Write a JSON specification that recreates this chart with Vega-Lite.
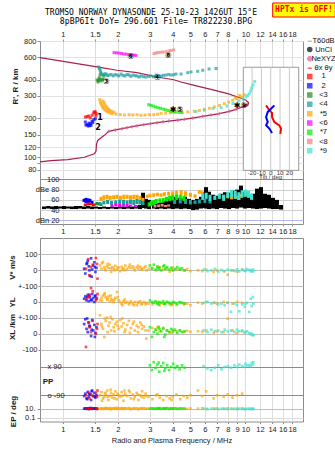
{
  "$schema": "https://vega.github.io/schema/vega-lite/v6.json",
  "background": "white",
  "padding": {"left": 7, "top": 1, "right": 0, "bottom": 0},
  "bounds": "flush",
  "spacing": 14,
  "config": {
    "view": {"stroke": "#8c8c8c", "strokeWidth": 1},
    "axis": {"domain": false, "labelFont": "Liberation Sans", "labelFontSize": 7.5, "labelColor": "#1a1a1a", "titleFont": "Liberation Sans", "titleFontSize": 8, "titleColor": "#1a1a1a", "tickColor": "#8c8c8c", "tickSize": 3, "labelPadding": 1, "gridColor": "#dddddd"},
    "text": {"font": "Liberation Sans"}
  },
  "vconcat": [
    {
      "width": 263,
      "height": 183,
      "layer": [
        {
          "data": {"values": [{"box": "tilt"}]},
          "mark": {"type": "rect", "fill": "white", "stroke": "#9a9a9a", "strokeWidth": 1},
          "encoding": {
            "x": {"datum": -29.4, "type": "quantitative", "scale": {"domain": [-247.4, 34.6], "nice": false, "zero": false}, "axis": null},
            "x2": {"datum": 30},
            "y": {"datum": 500, "type": "quantitative", "scale": {"type": "log", "domain": [30.3, 800], "nice": false, "zero": false}, "axis": null},
            "y2": {"datum": 79.1}
          }
        },
        {
          "data": {"values": [{"tick": -20, "lab": "-20"}, {"tick": -10, "lab": "-10"}, {"tick": 0, "lab": "0"}, {"tick": 10, "lab": "10"}, {"tick": 20, "lab": "20"}]},
          "mark": {"type": "rule", "color": "#c8c8c8", "strokeWidth": 1},
          "encoding": {
            "x": {"field": "tick", "type": "quantitative", "scale": {"domain": [-247.4, 34.6], "nice": false, "zero": false}, "axis": null},
            "y": {"datum": 500, "type": "quantitative", "scale": {"type": "log", "domain": [30.3, 800], "nice": false, "zero": false}, "axis": null},
            "y2": {"datum": 79.1}
          }
        },
        {
          "data": {"values": [{"tick": -20, "lab": "-20"}, {"tick": -10, "lab": "-10"}, {"tick": 0, "lab": "0"}, {"tick": 10, "lab": "10"}, {"tick": 20, "lab": "20"}]},
          "mark": {"type": "text", "fontSize": 6, "color": "#333333"},
          "encoding": {
            "x": {"field": "tick", "type": "quantitative", "scale": {"domain": [-247.4, 34.6], "nice": false, "zero": false}, "axis": null},
            "y": {"datum": 75.8, "type": "quantitative", "scale": {"type": "log", "domain": [30.3, 800], "nice": false, "zero": false}, "axis": null},
            "text": {"field": "lab"}
          }
        },
        {
          "data": {"values": [{"lab": "Tilt / deg"}]},
          "mark": {"type": "text", "fontSize": 6, "color": "#333333"},
          "encoding": {
            "x": {"datum": 0, "type": "quantitative", "scale": {"domain": [-247.4, 34.6], "nice": false, "zero": false}, "axis": null},
            "y": {"datum": 69.8, "type": "quantitative", "scale": {"type": "log", "domain": [30.3, 800], "nice": false, "zero": false}, "axis": null},
            "text": {"field": "lab"}
          }
        },
        {
          "data": {"values": [{"tilt": -5.0, "h": 253}, {"tilt": -1.5, "h": 232}, {"tilt": 1.4, "h": 221}, {"tilt": 1.4, "h": 205}, {"tilt": 3.9, "h": 188}, {"tilt": 9.2, "h": 177}, {"tilt": 11.0, "h": 167}, {"tilt": 10.3, "h": 152}]},
          "mark": {"type": "line", "color": "#ff0000", "strokeWidth": 2},
          "encoding": {
            "x": {"field": "tilt", "type": "quantitative", "scale": {"domain": [-247.4, 34.6], "nice": false, "zero": false}, "axis": null},
            "y": {"field": "h", "type": "quantitative", "scale": {"type": "log", "domain": [30.3, 800], "nice": false, "zero": false}, "axis": null},
            "order": {"field": "h", "type": "quantitative"}
          }
        },
        {
          "data": {"values": [{"tilt": 3.9, "h": 253}, {"tilt": 0.3, "h": 238}, {"tilt": -3.2, "h": 225}, {"tilt": -5.0, "h": 205}, {"tilt": -3.2, "h": 188}, {"tilt": -5.0, "h": 177}, {"tilt": -1.5, "h": 167}, {"tilt": 1.4, "h": 154}]},
          "mark": {"type": "line", "color": "#0000ff", "strokeWidth": 2},
          "encoding": {
            "x": {"field": "tilt", "type": "quantitative", "scale": {"domain": [-247.4, 34.6], "nice": false, "zero": false}, "axis": null},
            "y": {"field": "h", "type": "quantitative", "scale": {"type": "log", "domain": [30.3, 800], "nice": false, "zero": false}, "axis": null},
            "order": {"field": "h", "type": "quantitative"}
          }
        },
        {
          "data": {"values": [{"i": 0, "f": 0.751, "h": 595}, {"i": 1, "f": 0.931, "h": 566}, {"i": 2, "f": 1.198, "h": 533}, {"i": 3, "f": 1.541, "h": 503}, {"i": 4, "f": 1.982, "h": 474}, {"i": 5, "f": 2.551, "h": 454}, {"i": 6, "f": 3.282, "h": 420}, {"i": 7, "f": 4.05, "h": 400}, {"i": 8, "f": 4.44, "h": 384}, {"i": 9, "f": 5.25, "h": 362}, {"i": 10, "f": 6.48, "h": 337}, {"i": 11, "f": 8.0, "h": 312}, {"i": 12, "f": 9.07, "h": 294}, {"i": 13, "f": 10.08, "h": 277}, {"i": 14, "f": 10.4, "h": 265}, {"i": 15, "f": 10.3, "h": 252}, {"i": 16, "f": 9.9, "h": 247}]},
          "mark": {"type": "line", "color": "#a8204e", "strokeWidth": 1.2},
          "encoding": {
            "x": {"field": "f", "type": "quantitative", "scale": {"type": "log", "domain": [0.751, 20.66], "nice": false}, "axis": {"orient": "top", "values": [1, 1.5, 2, 3, 4, 5, 6, 7, 8, 9, 10, 12, 14, 16, 18], "format": "~g", "labelExpr": "datum.value == 9 ? '' : datum.label", "grid": true, "gridColor": "#dcdcdc", "tickSize": 2, "labelPadding": 1, "title": null}},
            "y": {"field": "h", "type": "quantitative", "scale": {"type": "log", "domain": [30.3, 800], "nice": false, "zero": false}, "axis": {"orient": "left", "values": [80, 90, 100, 120, 150, 200, 300, 400, 600, 800], "format": "~g", "grid": true, "gridColor": "#e2e2e2", "tickSize": 3, "title": "R', R / km", "titleX": -25, "titleY": 45, "titleAngle": 270, "titleAlign": "center", "titleBaseline": "middle", "titleFontWeight": "bold"}},
            "order": {"field": "i", "type": "quantitative"}
          }
        },
        {
          "data": {"values": [{"f": 0.751, "h": 92}, {"f": 0.863, "h": 94.3}, {"f": 1.065, "h": 95.7}, {"f": 1.313, "h": 100}, {"f": 1.489, "h": 106.5}, {"f": 1.522, "h": 111.8}, {"f": 1.531, "h": 126.7}, {"f": 1.554, "h": 135}, {"f": 1.689, "h": 148}, {"f": 1.786, "h": 159}, {"f": 1.941, "h": 163}, {"f": 2.112, "h": 166.6}, {"f": 2.395, "h": 172.7}, {"f": 2.776, "h": 179}, {"f": 3.282, "h": 185.5}, {"f": 3.804, "h": 191}, {"f": 4.63, "h": 197}, {"f": 5.84, "h": 208}, {"f": 7.195, "h": 218}, {"f": 8.166, "h": 227.5}, {"f": 8.88, "h": 235.7}, {"f": 9.86, "h": 250}, {"f": 10.27, "h": 260.6}]},
          "mark": {"type": "line", "color": "#a8204e", "strokeWidth": 1.2},
          "encoding": {
            "x": {"field": "f", "type": "quantitative", "scale": {"type": "log", "domain": [0.751, 20.66], "nice": false}, "axis": null},
            "y": {"field": "h", "type": "quantitative", "scale": {"type": "log", "domain": [30.3, 800], "nice": false, "zero": false}, "axis": null}
          }
        },
        {
          "data": {"values": [{"f": 1.786, "h": 159, "t": "NeXYZ"}, {"f": 1.941, "h": 163, "t": "NeXYZ"}, {"f": 2.112, "h": 166.6, "t": "NeXYZ"}, {"f": 2.249, "h": 169.6, "t": "NeXYZ"}, {"f": 2.395, "h": 172.7, "t": "NeXYZ"}, {"f": 2.551, "h": 175.8, "t": "NeXYZ"}, {"f": 2.776, "h": 179, "t": "NeXYZ"}, {"f": 3.016, "h": 182.2, "t": "NeXYZ"}, {"f": 3.282, "h": 185.5, "t": "NeXYZ"}, {"f": 3.54, "h": 188.9, "t": "NeXYZ"}, {"f": 3.804, "h": 191, "t": "NeXYZ"}, {"f": 4.26, "h": 194, "t": "NeXYZ"}, {"f": 4.63, "h": 197, "t": "NeXYZ"}, {"f": 5.146, "h": 202, "t": "NeXYZ"}, {"f": 5.84, "h": 208, "t": "NeXYZ"}, {"f": 6.48, "h": 213, "t": "NeXYZ"}, {"f": 7.195, "h": 218, "t": "NeXYZ"}, {"f": 8.166, "h": 227.5, "t": "NeXYZ"}, {"f": 8.88, "h": 235.7, "t": "NeXYZ"}, {"f": 9.86, "h": 250, "t": "NeXYZ"}]},
          "mark": {"type": "point", "shape": "cross", "filled": true, "size": 12},
          "encoding": {
            "x": {"field": "f", "type": "quantitative", "scale": {"type": "log", "domain": [0.751, 20.66], "nice": false}, "axis": null},
            "y": {"field": "h", "type": "quantitative", "scale": {"type": "log", "domain": [30.3, 800], "nice": false, "zero": false}, "axis": null},
            "color": {"field": "t", "type": "nominal"}
          }
        },
        {
          "data": {"values": [
            {"f": 1.33, "h": 205, "t": "1"}, {"f": 1.36, "h": 207, "t": "1"}, {"f": 1.388, "h": 209, "t": "1"}, {"f": 1.416, "h": 202, "t": "1"}, {"f": 1.447, "h": 212, "t": "1"}, {"f": 1.478, "h": 221, "t": "1"}, {"f": 1.49, "h": 225, "t": "1"}, {"f": 1.508, "h": 225, "t": "1"}, {"f": 1.527, "h": 218, "t": "1"}, {"f": 1.52, "h": 210, "t": "1"},
            {"f": 1.33, "h": 188, "t": "2"}, {"f": 1.34, "h": 178, "t": "2"}, {"f": 1.358, "h": 179, "t": "2"}, {"f": 1.376, "h": 175, "t": "2"}, {"f": 1.393, "h": 184, "t": "2"}, {"f": 1.4, "h": 176, "t": "2"}, {"f": 1.416, "h": 182, "t": "2"}, {"f": 1.43, "h": 177, "t": "2"}, {"f": 1.447, "h": 190, "t": "2"}, {"f": 1.46, "h": 186, "t": "2"}, {"f": 1.478, "h": 196, "t": "2"}, {"f": 1.508, "h": 199, "t": "2"},
            {"f": 1.541, "h": 398, "t": "3"}, {"f": 1.561, "h": 384, "t": "3"}, {"f": 1.57, "h": 395, "t": "3"}, {"f": 1.581, "h": 413, "t": "3"}, {"f": 1.6, "h": 405, "t": "3"}, {"f": 1.601, "h": 435, "t": "3"}, {"f": 1.621, "h": 391, "t": "3"}, {"f": 1.642, "h": 400, "t": "3"}, {"f": 1.662, "h": 405, "t": "3"}, {"f": 1.683, "h": 428, "t": "3"},
            {"f": 1.575, "h": 503, "t": "4"}, {"f": 1.59, "h": 490, "t": "4"}, {"f": 1.601, "h": 476, "t": "4"}, {"f": 1.611, "h": 460, "t": "4"}, {"f": 1.621, "h": 450, "t": "4"}, {"f": 1.642, "h": 440, "t": "4"}, {"f": 1.662, "h": 435, "t": "4"}, {"f": 1.7, "h": 445, "t": "4"}, {"f": 1.726, "h": 443, "t": "4"}, {"f": 1.76, "h": 430, "t": "4"}, {"f": 1.792, "h": 435, "t": "4"}, {"f": 1.84, "h": 440, "t": "4"}, {"f": 1.885, "h": 428, "t": "4"}, {"f": 1.93, "h": 438, "t": "4"}, {"f": 1.982, "h": 435, "t": "4"}, {"f": 2.03, "h": 428, "t": "4"}, {"f": 2.085, "h": 443, "t": "4"}, {"f": 2.14, "h": 432, "t": "4"}, {"f": 2.193, "h": 428, "t": "4"}, {"f": 2.25, "h": 440, "t": "4"}, {"f": 2.306, "h": 435, "t": "4"}, {"f": 2.36, "h": 425, "t": "4"}, {"f": 2.425, "h": 435, "t": "4"}, {"f": 2.49, "h": 430, "t": "4"}, {"f": 2.551, "h": 428, "t": "4"}, {"f": 2.62, "h": 420, "t": "4"}, {"f": 2.683, "h": 428, "t": "4"}, {"f": 2.77, "h": 423, "t": "4"}, {"f": 2.857, "h": 420, "t": "4"}, {"f": 2.95, "h": 425, "t": "4"}, {"f": 3.043, "h": 428, "t": "4"}, {"f": 3.14, "h": 422, "t": "4"}, {"f": 3.241, "h": 435, "t": "4"}, {"f": 3.35, "h": 430, "t": "4"}, {"f": 3.452, "h": 428, "t": "4"}, {"f": 3.56, "h": 433, "t": "4"}, {"f": 3.677, "h": 435, "t": "4"}, {"f": 3.8, "h": 440, "t": "4"}, {"f": 3.916, "h": 435, "t": "4"}, {"f": 4.05, "h": 438, "t": "4"}, {"f": 4.171, "h": 443, "t": "4"}, {"f": 4.442, "h": 443, "t": "4"}, {"f": 4.834, "h": 454, "t": "4"}, {"f": 5.038, "h": 460, "t": "4"}, {"f": 5.483, "h": 465, "t": "4"}, {"f": 5.84, "h": 474, "t": "4"}, {"f": 6.32, "h": 485, "t": "4"}, {"f": 6.904, "h": 489, "t": "4"},
            {"f": 1.594, "h": 280, "t": "5"}, {"f": 1.61, "h": 269, "t": "5"}, {"f": 1.621, "h": 261, "t": "5"}, {"f": 1.638, "h": 253, "t": "5"}, {"f": 1.655, "h": 246, "t": "5"}, {"f": 1.676, "h": 240, "t": "5"}, {"f": 1.698, "h": 234, "t": "5"}, {"f": 1.73, "h": 229, "t": "5"}, {"f": 1.764, "h": 225, "t": "5"}, {"f": 1.81, "h": 221, "t": "5"}, {"f": 1.861, "h": 218, "t": "5"}, {"f": 1.96, "h": 216, "t": "5"}, {"f": 2.067, "h": 214, "t": "5"}, {"f": 2.18, "h": 213, "t": "5"}, {"f": 2.306, "h": 214, "t": "5"}, {"f": 2.42, "h": 213, "t": "5"}, {"f": 2.551, "h": 214, "t": "5"}, {"f": 2.68, "h": 212, "t": "5"}, {"f": 2.822, "h": 213, "t": "5"}, {"f": 2.98, "h": 214, "t": "5"}, {"f": 3.149, "h": 214, "t": "5"}, {"f": 3.3, "h": 216, "t": "5"}, {"f": 3.452, "h": 219, "t": "5"}, {"f": 3.66, "h": 220, "t": "5"}, {"f": 3.88, "h": 221, "t": "5"}, {"f": 4.08, "h": 225, "t": "5"}, {"f": 4.45, "h": 225, "t": "5"}, {"f": 4.834, "h": 225, "t": "5"}, {"f": 5.25, "h": 227.5, "t": "5"}, {"f": 5.6, "h": 231, "t": "5"}, {"f": 5.957, "h": 235.7, "t": "5"}, {"f": 6.35, "h": 240, "t": "5"}, {"f": 6.76, "h": 246, "t": "5"}, {"f": 7.2, "h": 253, "t": "5"}, {"f": 7.664, "h": 261, "t": "5"}, {"f": 8.1, "h": 268, "t": "5"}, {"f": 8.52, "h": 277, "t": "5"}, {"f": 9.0, "h": 285, "t": "5"}, {"f": 9.46, "h": 294, "t": "5"}, {"f": 9.86, "h": 306, "t": "5"}, {"f": 8.8, "h": 289, "t": "5"}, {"f": 9.3, "h": 302, "t": "5"},
            {"f": 1.662, "h": 274, "t": "5"}, {"f": 1.683, "h": 265, "t": "5"}, {"f": 1.705, "h": 255, "t": "5"}, {"f": 1.728, "h": 248, "t": "5"}, {"f": 1.75, "h": 241, "t": "5"}, {"f": 1.78, "h": 236, "t": "5"}, {"f": 1.815, "h": 231, "t": "5"}, {"f": 1.86, "h": 227, "t": "5"}, {"f": 1.909, "h": 223, "t": "5"},
            {"f": 1.909, "h": 649, "t": "6"}, {"f": 1.97, "h": 647, "t": "6"}, {"f": 2.033, "h": 645, "t": "6"}, {"f": 2.1, "h": 640, "t": "6"}, {"f": 2.165, "h": 634, "t": "6"}, {"f": 2.23, "h": 632, "t": "6"}, {"f": 2.306, "h": 628, "t": "6"}, {"f": 2.38, "h": 625, "t": "6"}, {"f": 2.456, "h": 622, "t": "6"}, {"f": 2.52, "h": 618, "t": "6"},
            {"f": 2.956, "h": 256, "t": "7"}, {"f": 3.04, "h": 253, "t": "7"}, {"f": 3.121, "h": 250, "t": "7"}, {"f": 3.22, "h": 246, "t": "7"}, {"f": 3.323, "h": 243, "t": "7"}, {"f": 3.43, "h": 240, "t": "7"}, {"f": 3.54, "h": 237, "t": "7"}, {"f": 3.65, "h": 234, "t": "7"}, {"f": 3.771, "h": 231, "t": "7"}, {"f": 3.89, "h": 228, "t": "7"}, {"f": 4.015, "h": 225, "t": "7"}, {"f": 4.17, "h": 224, "t": "7"}, {"f": 4.33, "h": 223, "t": "7"}, {"f": 4.5, "h": 222, "t": "7"},
            {"f": 3.16, "h": 639, "t": "8"}, {"f": 3.24, "h": 645, "t": "8"}, {"f": 3.33, "h": 651, "t": "8"}, {"f": 3.44, "h": 654, "t": "8"}, {"f": 3.54, "h": 657, "t": "8"}, {"f": 3.68, "h": 662, "t": "8"}, {"f": 3.818, "h": 669, "t": "8"}, {"f": 3.92, "h": 675, "t": "8"}, {"f": 4.05, "h": 682, "t": "8"},
            {"f": 5.366, "h": 227, "t": "9"}, {"f": 5.957, "h": 232, "t": "9"}, {"f": 6.65, "h": 239, "t": "9"}, {"f": 7.353, "h": 243, "t": "9"}, {"f": 7.93, "h": 250, "t": "9"}, {"f": 8.55, "h": 261.5, "t": "9"}, {"f": 9.23, "h": 274, "t": "9"}, {"f": 9.7, "h": 283, "t": "9"}, {"f": 10.08, "h": 294, "t": "9"}, {"f": 10.3, "h": 303, "t": "9"}, {"f": 10.5, "h": 312, "t": "9"}, {"f": 10.67, "h": 328, "t": "9"}, {"f": 10.83, "h": 345, "t": "9"}, {"f": 11.0, "h": 364, "t": "9"}, {"f": 11.24, "h": 388, "t": "9"}
          ]},
          "mark": {"type": "square", "size": 9},
          "encoding": {
            "x": {"field": "f", "type": "quantitative", "scale": {"type": "log", "domain": [0.751, 20.66], "nice": false}, "axis": null},
            "y": {"field": "h", "type": "quantitative", "scale": {"type": "log", "domain": [30.3, 800], "nice": false, "zero": false}, "axis": null},
            "color": {
              "field": "t", "type": "nominal",
              "scale": {"domain": ["T60dB", "UnCl", "NeXYZ", "θx  θy", "1", "2", "3", "4", "5", "6", "7", "8", "9"], "range": ["#999999", "#000000", "#e0609a", "#ff0000", "#ff0000", "#0000ff", "#228b22", "#1a9e9e", "#ffa500", "#ff00ff", "#00ee00", "#f08080", "#40e0d0"]},
              "legend": {
                "orient": "none", "legendX": 266, "legendY": -3.5, "title": null, "padding": 0,
                "symbolType": {"expr": "(datum.value == 'T60dB' || datum.value == 'θx  θy') ? 'stroke' : (datum.value == 'UnCl' ? 'circle' : (datum.value == 'NeXYZ' ? 'cross' : 'square'))"},
                "symbolStrokeColor": {"expr": "scale('color', datum.value)"},
                "symbolFillColor": {"expr": "scale('color', datum.value)"},
                "symbolStrokeWidth": 1.3,
                "symbolOpacity": 1,
                "labelFont": "Liberation Sans", "labelFontSize": 7.5, "labelColor": "#111111",
                "labelAlign": "center", "labelOffset": 10, "rowPadding": -0.7, "symbolSize": 18,
                "labelExpr": "indexof(['3','4','6','8'], datum.label) >= 0 ? '<' + datum.label : (indexof(['5','7','9'], datum.label) >= 0 ? '*' + datum.label : datum.label)"
              }
            }
          }
        },
        {
          "data": {"values": [{"f": 1.6, "h": 200, "lab": "1"}, {"f": 1.56, "h": 170, "lab": "2"}, {"f": 1.73, "h": 387, "lab": "③"}, {"f": 3.3, "h": 413, "lab": "④"}, {"f": 4.2, "h": 232, "lab": "✱⑤"}, {"f": 2.35, "h": 598, "lab": "⑥"}, {"f": 3.78, "h": 612, "lab": "⑧"}, {"f": 9.4, "h": 252, "lab": "✱⑨"}]},
          "mark": {"type": "text", "font": "DejaVu Sans", "fontSize": 8, "fontWeight": "bold", "color": "#000000"},
          "encoding": {
            "x": {"field": "f", "type": "quantitative", "scale": {"type": "log", "domain": [0.751, 20.66], "nice": false}, "axis": null},
            "y": {"field": "h", "type": "quantitative", "scale": {"type": "log", "domain": [30.3, 800], "nice": false, "zero": false}, "axis": null},
            "text": {"field": "lab"}
          }
        },
        {
          "data": {"values": [
            {"f": 0.79, "lo": 42, "hi": 47, "t": "UnCl"}, {"f": 0.832, "lo": 43, "hi": 48, "t": "UnCl"}, {"f": 0.874, "lo": 42, "hi": 47, "t": "UnCl"}, {"f": 0.919, "lo": 42, "hi": 48, "t": "UnCl"}, {"f": 0.967, "lo": 43, "hi": 47, "t": "UnCl"}, {"f": 1.016, "lo": 42, "hi": 48, "t": "UnCl"}, {"f": 1.069, "lo": 43, "hi": 47, "t": "UnCl"}, {"f": 1.124, "lo": 42, "hi": 47, "t": "UnCl"}, {"f": 1.182, "lo": 42, "hi": 48, "t": "UnCl"}, {"f": 1.243, "lo": 43, "hi": 48, "t": "UnCl"}, {"f": 1.308, "lo": 42, "hi": 47, "t": "UnCl"}, {"f": 1.376, "lo": 43, "hi": 48, "t": "UnCl"}, {"f": 1.447, "lo": 42, "hi": 47, "t": "UnCl"}, {"f": 1.522, "lo": 43, "hi": 47, "t": "UnCl"}, {"f": 1.6, "lo": 42, "hi": 46, "t": "UnCl"}, {"f": 1.683, "lo": 43, "hi": 47, "t": "UnCl"}, {"f": 1.77, "lo": 42, "hi": 46, "t": "UnCl"}, {"f": 1.862, "lo": 43, "hi": 47, "t": "UnCl"}, {"f": 1.957, "lo": 42, "hi": 46, "t": "UnCl"}, {"f": 2.059, "lo": 43, "hi": 47, "t": "UnCl"}, {"f": 2.165, "lo": 42, "hi": 47, "t": "UnCl"}, {"f": 2.277, "lo": 43, "hi": 48, "t": "UnCl"}, {"f": 2.395, "lo": 42, "hi": 47, "t": "UnCl"}, {"f": 2.519, "lo": 43, "hi": 49, "t": "UnCl"}, {"f": 2.649, "lo": 42, "hi": 50, "t": "UnCl"}, {"f": 2.75, "lo": 44, "hi": 74, "t": "UnCl"}, {"f": 2.857, "lo": 43, "hi": 62, "t": "UnCl"}, {"f": 2.97, "lo": 42, "hi": 60, "t": "UnCl"}, {"f": 3.16, "lo": 43, "hi": 56, "t": "UnCl"}, {"f": 3.28, "lo": 42, "hi": 54, "t": "UnCl"}, {"f": 3.452, "lo": 43, "hi": 55, "t": "UnCl"}, {"f": 3.63, "lo": 42, "hi": 58, "t": "UnCl"}, {"f": 3.82, "lo": 43, "hi": 62, "t": "UnCl"}, {"f": 4.01, "lo": 42, "hi": 66, "t": "UnCl"}, {"f": 4.22, "lo": 43, "hi": 64, "t": "UnCl"}, {"f": 4.442, "lo": 42, "hi": 63, "t": "UnCl"}, {"f": 4.67, "lo": 43, "hi": 66, "t": "UnCl"}, {"f": 4.91, "lo": 42, "hi": 62, "t": "UnCl"}, {"f": 5.17, "lo": 40, "hi": 60, "t": "UnCl"}, {"f": 5.43, "lo": 41, "hi": 62, "t": "UnCl"}, {"f": 5.715, "lo": 43, "hi": 66, "t": "UnCl"}, {"f": 5.93, "lo": 44, "hi": 75, "t": "UnCl"}, {"f": 6.087, "lo": 43, "hi": 85, "t": "UnCl"}, {"f": 6.32, "lo": 42, "hi": 76, "t": "UnCl"}, {"f": 6.65, "lo": 43, "hi": 70, "t": "UnCl"}, {"f": 6.99, "lo": 42, "hi": 68, "t": "UnCl"}, {"f": 7.353, "lo": 44, "hi": 72, "t": "UnCl"}, {"f": 7.73, "lo": 43, "hi": 75, "t": "UnCl"}, {"f": 8.13, "lo": 42, "hi": 74, "t": "UnCl"}, {"f": 8.55, "lo": 44, "hi": 78, "t": "UnCl"}, {"f": 8.99, "lo": 43, "hi": 80, "t": "UnCl"}, {"f": 9.461, "lo": 45, "hi": 88, "t": "UnCl"}, {"f": 9.95, "lo": 43, "hi": 76, "t": "UnCl"}, {"f": 10.46, "lo": 44, "hi": 70, "t": "UnCl"}, {"f": 11.0, "lo": 43, "hi": 72, "t": "UnCl"}, {"f": 11.57, "lo": 42, "hi": 82, "t": "UnCl"}, {"f": 12.17, "lo": 43, "hi": 85, "t": "UnCl"}, {"f": 12.8, "lo": 44, "hi": 72, "t": "UnCl"}, {"f": 13.46, "lo": 43, "hi": 70, "t": "UnCl"}, {"f": 14.15, "lo": 42, "hi": 64, "t": "UnCl"}, {"f": 14.88, "lo": 42, "hi": 60, "t": "UnCl"}, {"f": 15.67, "lo": 41, "hi": 50, "t": "UnCl"},
            {"f": 1.308, "lo": 56, "hi": 62, "t": "2"}, {"f": 1.34, "lo": 54, "hi": 64, "t": "2"}, {"f": 1.376, "lo": 53, "hi": 63, "t": "2"}, {"f": 1.41, "lo": 55, "hi": 62, "t": "2"}, {"f": 1.447, "lo": 52, "hi": 58, "t": "2"},
            {"f": 1.33, "lo": 48, "hi": 53, "t": "1"}, {"f": 1.376, "lo": 49, "hi": 55, "t": "1"}, {"f": 1.42, "lo": 50, "hi": 54, "t": "1"}, {"f": 1.47, "lo": 48, "hi": 52, "t": "1"}, {"f": 1.5, "lo": 49, "hi": 53, "t": "1"},
            {"f": 1.54, "lo": 50, "hi": 56, "t": "3"}, {"f": 1.58, "lo": 49, "hi": 54, "t": "3"}, {"f": 1.62, "lo": 48, "hi": 53, "t": "3"},
            {"f": 1.6, "lo": 50, "hi": 56, "t": "4"}, {"f": 1.68, "lo": 51, "hi": 58, "t": "4"}, {"f": 1.76, "lo": 52, "hi": 60, "t": "4"}, {"f": 1.85, "lo": 50, "hi": 58, "t": "4"}, {"f": 1.95, "lo": 51, "hi": 59, "t": "4"}, {"f": 2.05, "lo": 52, "hi": 61, "t": "4"}, {"f": 2.15, "lo": 50, "hi": 60, "t": "4"}, {"f": 2.25, "lo": 51, "hi": 59, "t": "4"}, {"f": 2.35, "lo": 52, "hi": 61, "t": "4"}, {"f": 2.45, "lo": 50, "hi": 60, "t": "4"}, {"f": 2.55, "lo": 52, "hi": 62, "t": "4"}, {"f": 2.65, "lo": 51, "hi": 60, "t": "4"}, {"f": 2.75, "lo": 50, "hi": 58, "t": "4"}, {"f": 4.1, "lo": 52, "hi": 60, "t": "4"}, {"f": 4.4, "lo": 53, "hi": 61, "t": "4"}, {"f": 4.7, "lo": 52, "hi": 62, "t": "4"}, {"f": 5.0, "lo": 51, "hi": 60, "t": "4"}, {"f": 5.3, "lo": 52, "hi": 59, "t": "4"}, {"f": 5.6, "lo": 53, "hi": 61, "t": "4"}, {"f": 6.0, "lo": 54, "hi": 62, "t": "4"}, {"f": 6.4, "lo": 53, "hi": 60, "t": "4"},
            {"f": 1.62, "lo": 58, "hi": 66, "t": "5"}, {"f": 1.68, "lo": 60, "hi": 69, "t": "5"}, {"f": 1.75, "lo": 61, "hi": 70, "t": "5"}, {"f": 1.82, "lo": 60, "hi": 68, "t": "5"}, {"f": 1.9, "lo": 61, "hi": 69, "t": "5"}, {"f": 1.98, "lo": 62, "hi": 70, "t": "5"}, {"f": 2.07, "lo": 60, "hi": 68, "t": "5"}, {"f": 2.16, "lo": 61, "hi": 70, "t": "5"}, {"f": 2.25, "lo": 62, "hi": 70, "t": "5"}, {"f": 2.35, "lo": 60, "hi": 69, "t": "5"}, {"f": 2.45, "lo": 61, "hi": 70, "t": "5"}, {"f": 2.55, "lo": 62, "hi": 70, "t": "5"}, {"f": 2.65, "lo": 60, "hi": 68, "t": "5"}, {"f": 2.75, "lo": 58, "hi": 64, "t": "5"}, {"f": 2.9, "lo": 64, "hi": 70, "t": "5"}, {"f": 3.0, "lo": 65, "hi": 72, "t": "5"}, {"f": 3.15, "lo": 66, "hi": 73, "t": "5"}, {"f": 3.3, "lo": 67, "hi": 74, "t": "5"}, {"f": 3.45, "lo": 66, "hi": 73, "t": "5"}, {"f": 3.6, "lo": 67, "hi": 75, "t": "5"}, {"f": 3.8, "lo": 68, "hi": 76, "t": "5"}, {"f": 4.0, "lo": 69, "hi": 77, "t": "5"}, {"f": 4.2, "lo": 70, "hi": 78, "t": "5"}, {"f": 4.45, "lo": 69, "hi": 79, "t": "5"}, {"f": 4.7, "lo": 67, "hi": 77, "t": "5"}, {"f": 5.0, "lo": 66, "hi": 74, "t": "5"}, {"f": 5.3, "lo": 64, "hi": 71, "t": "5"}, {"f": 5.6, "lo": 72, "hi": 79, "t": "5"}, {"f": 5.8, "lo": 71, "hi": 77, "t": "5"}, {"f": 7.6, "lo": 62, "hi": 70, "t": "5"}, {"f": 8.0, "lo": 63, "hi": 72, "t": "5"}, {"f": 8.4, "lo": 61, "hi": 70, "t": "5"}, {"f": 8.8, "lo": 62, "hi": 71, "t": "5"}, {"f": 9.2, "lo": 60, "hi": 68, "t": "5"}, {"f": 9.5, "lo": 64, "hi": 72, "t": "5"},
            {"f": 1.86, "lo": 46, "hi": 51, "t": "6"}, {"f": 1.95, "lo": 47, "hi": 53, "t": "6"}, {"f": 2.05, "lo": 46, "hi": 52, "t": "6"}, {"f": 2.15, "lo": 47, "hi": 51, "t": "6"}, {"f": 2.25, "lo": 46, "hi": 52, "t": "6"}, {"f": 2.35, "lo": 47, "hi": 51, "t": "6"}, {"f": 2.5, "lo": 46, "hi": 50, "t": "6"},
            {"f": 2.97, "lo": 47, "hi": 55, "t": "7"}, {"f": 3.05, "lo": 48, "hi": 58, "t": "7"}, {"f": 3.15, "lo": 50, "hi": 60, "t": "7"}, {"f": 3.25, "lo": 52, "hi": 62, "t": "7"}, {"f": 3.4, "lo": 54, "hi": 63, "t": "7"}, {"f": 3.55, "lo": 55, "hi": 64, "t": "7"}, {"f": 3.7, "lo": 57, "hi": 66, "t": "7"}, {"f": 3.85, "lo": 58, "hi": 68, "t": "7"}, {"f": 4.0, "lo": 59, "hi": 70, "t": "7"}, {"f": 4.2, "lo": 60, "hi": 71, "t": "7"}, {"f": 4.4, "lo": 60, "hi": 70, "t": "7"}, {"f": 4.6, "lo": 58, "hi": 68, "t": "7"},
            {"f": 3.2, "lo": 45, "hi": 50, "t": "8"}, {"f": 3.35, "lo": 46, "hi": 51, "t": "8"}, {"f": 3.5, "lo": 47, "hi": 52, "t": "8"}, {"f": 3.65, "lo": 46, "hi": 50, "t": "8"}, {"f": 3.8, "lo": 47, "hi": 51, "t": "8"},
            {"f": 5.84, "lo": 60, "hi": 72, "t": "9"}, {"f": 6.1, "lo": 62, "hi": 74, "t": "9"}, {"f": 6.4, "lo": 58, "hi": 70, "t": "9"}, {"f": 6.8, "lo": 60, "hi": 68, "t": "9"}, {"f": 7.2, "lo": 62, "hi": 72, "t": "9"}, {"f": 7.6, "lo": 58, "hi": 70, "t": "9"}, {"f": 8.0, "lo": 64, "hi": 76, "t": "9"}, {"f": 8.4, "lo": 66, "hi": 80, "t": "9"}, {"f": 8.8, "lo": 62, "hi": 78, "t": "9"}, {"f": 9.2, "lo": 60, "hi": 75, "t": "9"}, {"f": 9.6, "lo": 65, "hi": 79, "t": "9"}, {"f": 10.0, "lo": 66, "hi": 80, "t": "9"}, {"f": 10.4, "lo": 64, "hi": 78, "t": "9"}, {"f": 10.8, "lo": 60, "hi": 72, "t": "9"}
          ]},
          "mark": {"type": "rule"},
          "encoding": {
            "x": {"field": "f", "type": "quantitative", "scale": {"type": "log", "domain": [0.751, 20.66], "nice": false}, "axis": {"orient": "bottom", "values": [1, 1.5, 2, 3, 4, 5, 6, 7, 8, 9, 10, 12, 14, 16, 18], "format": "~g", "grid": false, "tickSize": 2, "labelPadding": 1, "title": null}},
            "y": {"field": "lo", "type": "quantitative", "scale": {"domain": [12.7, 371.6], "nice": false, "zero": false}, "axis": {"orient": "left", "values": [100, 80, 60, 40, 20], "labelExpr": "datum.value == 80 ? 'dBe 80' : (datum.value == 20 ? 'dBn 20' : datum.label)", "ticks": false, "labelPadding": -19, "grid": true, "gridColor": {"condition": [{"test": "datum.value == 100", "value": "#8c8c8c"}, {"test": "datum.value == 20", "value": "#b4b4e6"}], "value": "#cfcfcf"}, "title": null}},
            "y2": {"field": "hi"},
            "color": {"field": "t", "type": "nominal"},
            "strokeWidth": {"condition": {"test": "datum.t == 'UnCl'", "value": 4}, "value": 3}
          }
        },
        {
          "data": {"values": [{"msg": "HPTx is OFF!"}]},
          "mark": {"type": "rect", "fill": "#ffff00", "stroke": "#ff0000", "strokeWidth": 1},
          "encoding": {
            "x": {"datum": 0.8848, "type": "quantitative", "scale": {"domain": [0, 1], "nice": false, "zero": false}, "axis": null},
            "x2": {"datum": 1.1228},
            "y": {"datum": 1.1311, "type": "quantitative", "scale": {"domain": [0, 1], "nice": false, "zero": false}, "axis": null},
            "y2": {"datum": 1.2077}
          }
        },
        {
          "data": {"values": [{"msg": "HPTx is OFF!"}]},
          "mark": {"type": "text", "font": "DejaVu Sans Mono", "fontSize": 8, "fontWeight": "bold", "color": "#ff0000"},
          "encoding": {
            "x": {"datum": 1.0038, "type": "quantitative", "scale": {"domain": [0, 1], "nice": false, "zero": false}, "axis": null},
            "y": {"datum": 1.1678, "type": "quantitative", "scale": {"domain": [0, 1], "nice": false, "zero": false}, "axis": null},
            "text": {"field": "msg"}
          }
        },
        {
          "data": {"values": [{"line": "TROMSO NORWAY   DYNASONDE 25-10-23 1426UT 15°E"}]},
          "mark": {"type": "text", "font": "DejaVu Sans Mono", "fontSize": 8, "color": "#000000"},
          "encoding": {
            "x": {"datum": 0.422, "type": "quantitative", "scale": {"domain": [0, 1], "nice": false, "zero": false}, "axis": null},
            "y": {"datum": 1.1503, "type": "quantitative", "scale": {"domain": [0, 1], "nice": false, "zero": false}, "axis": null},
            "text": {"field": "line"}
          }
        },
        {
          "data": {"values": [{"line": "8pBP6It DoY= 296.601 File= TR822230.BPG"}]},
          "mark": {"type": "text", "font": "DejaVu Sans Mono", "fontSize": 8.2, "color": "#000000"},
          "encoding": {
            "x": {"datum": 0.441, "type": "quantitative", "scale": {"domain": [0, 1], "nice": false, "zero": false}, "axis": null},
            "y": {"datum": 1.1011, "type": "quantitative", "scale": {"domain": [0, 1], "nice": false, "zero": false}, "axis": null},
            "text": {"field": "line"}
          }
        }
      ],
      "resolve": {"scale": {"x": "independent", "y": "independent"}}
    },
    {
      "width": 263,
      "height": 183.5,
      "data": {"values": [
        {"f": 1.31, "t": "2", "V": 10, "YL": 20, "XL": 60, "PP": -95, "EP": 10},
        {"f": 1.33, "t": "2", "V": -20, "YL": 35, "XL": 90, "PP": -80, "EP": 12},
        {"f": 1.35, "t": "2", "V": 40, "YL": 10, "XL": 30, "PP": -110, "EP": 9},
        {"f": 1.37, "t": "2", "V": 60, "YL": 45, "XL": 10, "PP": -70, "EP": 11},
        {"f": 1.39, "t": "2", "V": 25, "YL": 5, "XL": 70, "PP": -100, "EP": 8},
        {"f": 1.41, "t": "2", "V": -35, "YL": 30, "XL": 45, "PP": -85, "EP": 14},
        {"f": 1.43, "t": "2", "V": 75, "YL": 15, "XL": -15, "PP": -120, "EP": 10},
        {"f": 1.45, "t": "2", "V": 5, "YL": 50, "XL": 85, "PP": -60, "EP": 9},
        {"f": 1.47, "t": "2", "V": 30, "YL": 25, "XL": 20, "PP": -95, "EP": 12},
        {"f": 1.49, "t": "2", "V": 50, "YL": 0, "XL": 55, "PP": -75, "EP": 10},
        {"f": 1.51, "t": "2", "V": -10, "YL": 40, "XL": 5, "PP": -105, "EP": 11},
        {"f": 1.53, "t": "2", "V": 15, "YL": 20, "XL": 40, "PP": -90, "EP": 9},
        {"f": 1.36, "t": "2", "V": 45, "YL": 30, "XL": 95, "PP": -115, "EP": 10},
        {"f": 1.44, "t": "2", "V": -40, "YL": 10, "XL": 25, "PP": -65, "EP": 13},
        {"f": 1.5, "t": "2", "V": 20, "YL": 35, "XL": -20, "PP": -100, "EP": 10},
        {"f": 1.4, "t": "2", "V": 0, "YL": 45, "XL": 50, "PP": -80, "EP": 11},
        {"f": 1.341, "t": "1", "V": 10, "YL": 20, "XL": -83, "PP": -90, "EP": 10},
        {"f": 1.38, "t": "1", "V": 69, "YL": 30, "XL": 70, "PP": -70, "EP": 11},
        {"f": 1.4, "t": "1", "V": -31, "YL": 40, "XL": 40, "PP": -110, "EP": 9},
        {"f": 1.428, "t": "1", "V": 20, "YL": 87, "XL": 10, "PP": -85, "EP": 10},
        {"f": 1.46, "t": "1", "V": 35, "YL": 67, "XL": 80, "PP": -95, "EP": 12},
        {"f": 1.52, "t": "1", "V": 77, "YL": 10, "XL": 0, "PP": -75, "EP": 10},
        {"f": 1.55, "t": "1", "V": -52, "YL": 50, "XL": 60, "PP": -60, "EP": 9},
        {"f": 1.54, "t": "1", "V": 40, "YL": 25, "XL": 30, "PP": -100, "EP": 11},
        {"f": 1.6, "t": "5", "V": 30, "YL": 10, "XL": 115, "PP": -90, "EP": 10},
        {"f": 1.63, "t": "5", "V": 10, "YL": 25, "XL": 60, "PP": -70, "EP": 12},
        {"f": 1.66, "t": "5", "V": 52, "YL": 40, "XL": 30, "PP": -110, "EP": 8},
        {"f": 1.69, "t": "5", "V": 20, "YL": 46, "XL": -21, "PP": -100, "EP": 11},
        {"f": 1.72, "t": "5", "V": 0, "YL": 30, "XL": 80, "PP": -80, "EP": 14},
        {"f": 1.75, "t": "5", "V": 25, "YL": 15, "XL": 100, "PP": -60, "EP": 9},
        {"f": 1.78, "t": "5", "V": 15, "YL": 35, "XL": 50, "PP": -120, "EP": 10},
        {"f": 1.81, "t": "5", "V": 35, "YL": 5, "XL": 70, "PP": -95, "EP": 13},
        {"f": 1.84, "t": "5", "V": -10, "YL": 20, "XL": 20, "PP": -75, "EP": 8},
        {"f": 1.87, "t": "5", "V": 20, "YL": 10, "XL": 90, "PP": -105, "EP": 12},
        {"f": 1.9, "t": "5", "V": 10, "YL": 0, "XL": 40, "PP": -85, "EP": 10},
        {"f": 1.94, "t": "5", "V": 28, "YL": 25, "XL": 60, "PP": -65, "EP": 15},
        {"f": 1.98, "t": "5", "V": 5, "YL": 62, "XL": 75, "PP": -115, "EP": 9},
        {"f": 2.02, "t": "5", "V": 18, "YL": 10, "XL": 30, "PP": -90, "EP": 11},
        {"f": 2.06, "t": "5", "V": -5, "YL": 0, "XL": 85, "PP": -100, "EP": 10},
        {"f": 2.1, "t": "5", "V": 22, "YL": -10, "XL": 45, "PP": -70, "EP": 13},
        {"f": 2.15, "t": "5", "V": 12, "YL": 5, "XL": 65, "PP": -125, "EP": 9},
        {"f": 2.2, "t": "5", "V": 30, "YL": -5, "XL": 25, "PP": -80, "EP": 12},
        {"f": 2.25, "t": "5", "V": 8, "YL": 0, "XL": 55, "PP": -95, "EP": 10},
        {"f": 2.3, "t": "5", "V": 20, "YL": -15, "XL": 80, "PP": -60, "EP": 14},
        {"f": 2.36, "t": "5", "V": 15, "YL": 5, "XL": 35, "PP": -110, "EP": 8},
        {"f": 2.42, "t": "5", "V": 25, "YL": -10, "XL": 60, "PP": -85, "EP": 11},
        {"f": 2.48, "t": "5", "V": 0, "YL": 0, "XL": 20, "PP": -100, "EP": 10},
        {"f": 2.54, "t": "5", "V": 18, "YL": -20, "XL": 50, "PP": -75, "EP": 12},
        {"f": 2.6, "t": "5", "V": 10, "YL": -5, "XL": 40, "PP": -120, "EP": 9},
        {"f": 2.66, "t": "5", "V": 22, "YL": 5, "XL": 70, "PP": -90, "EP": 11},
        {"f": 2.72, "t": "5", "V": 5, "YL": -10, "XL": 30, "PP": -65, "EP": 10},
        {"f": 2.78, "t": "5", "V": 15, "YL": 0, "XL": 45, "PP": -105, "EP": 13},
        {"f": 2.84, "t": "5", "V": 25, "YL": -15, "XL": 20, "PP": -80, "EP": 9},
        {"f": 2.87, "t": "5", "V": 0, "YL": -5, "XL": -31, "PP": -95, "EP": 10},
        {"f": 1.7, "t": "5", "V": 5, "YL": 55, "XL": 95, "PP": -75, "EP": 10},
        {"f": 1.76, "t": "5", "V": 40, "YL": 20, "XL": 10, "PP": -100, "EP": 12},
        {"f": 1.83, "t": "5", "V": 12, "YL": 40, "XL": 104, "PP": -55, "EP": 9},
        {"f": 1.92, "t": "5", "V": 0, "YL": 15, "XL": 15, "PP": -110, "EP": 11},
        {"f": 2.0, "t": "5", "V": 15, "YL": 30, "XL": 50, "PP": -80, "EP": 14},
        {"f": 2.12, "t": "5", "V": 5, "YL": -20, "XL": 95, "PP": -95, "EP": 10},
        {"f": 2.33, "t": "5", "V": 35, "YL": -5, "XL": 5, "PP": -70, "EP": 10},
        {"f": 2.45, "t": "5", "V": 12, "YL": -20, "XL": 75, "PP": -115, "EP": 12},
        {"f": 2.58, "t": "5", "V": 28, "YL": 0, "XL": 10, "PP": -85, "EP": 8},
        {"f": 2.7, "t": "5", "V": 8, "YL": -15, "XL": 55, "PP": -100, "EP": 11},
        {"f": 1.64, "t": "5", "V": 45, "YL": 5, "XL": 45, "PP": -125, "EP": 10},
        {"f": 2.18, "t": "5", "V": 0, "YL": 15, "XL": 10, "PP": -60, "EP": 12},
        {"f": 2.95, "t": "5", "V": 10, "YL": -10, "XL": 20, "PP": -100, "EP": 10},
        {"f": 3.1, "t": "5", "V": 15, "YL": -15, "XL": 35, "PP": -115, "EP": 12},
        {"f": 3.25, "t": "5", "V": 0, "YL": -5, "XL": 25, "PP": -90, "EP": 9},
        {"f": 3.4, "t": "5", "V": 20, "YL": -20, "XL": 15, "PP": -105, "EP": 11},
        {"f": 3.55, "t": "5", "V": 5, "YL": -10, "XL": 30, "PP": -120, "EP": 10},
        {"f": 3.7, "t": "5", "V": 12, "YL": 0, "XL": 20, "PP": -95, "EP": 13},
        {"f": 3.85, "t": "5", "V": -8, "YL": -15, "XL": 10, "PP": -110, "EP": 9},
        {"f": 4.0, "t": "5", "V": 18, "YL": -10, "XL": 25, "PP": -100, "EP": 11},
        {"f": 4.2, "t": "5", "V": 5, "YL": -20, "XL": 15, "PP": -85, "EP": 10},
        {"f": 4.4, "t": "5", "V": 10, "YL": -5, "XL": 20, "PP": -115, "EP": 12},
        {"f": 4.6, "t": "5", "V": 0, "YL": -15, "XL": 10, "PP": -95, "EP": 10},
        {"f": 4.8, "t": "5", "V": 8, "YL": -10, "XL": 18, "PP": -105, "EP": 9},
        {"f": 5.0, "t": "5", "V": -5, "YL": -20, "XL": 12, "PP": -90, "EP": 11},
        {"f": 3.3, "t": "5", "V": 25, "YL": 0, "XL": 40, "PP": -85, "EP": 10},
        {"f": 3.95, "t": "5", "V": 0, "YL": -20, "XL": 5, "PP": -120, "EP": 12},
        {"f": 5.5, "t": "5", "V": 0, "YL": -5, "XL": 15, "PP": -60, "EP": 10},
        {"f": 5.8, "t": "5", "V": -5, "YL": -10, "XL": 10, "PP": -95, "EP": 12},
        {"f": 6.1, "t": "5", "V": 5, "YL": 0, "XL": 20, "PP": -65, "EP": 9},
        {"f": 6.7, "t": "5", "V": -10, "YL": -5, "XL": 5, "PP": -110, "EP": 10},
        {"f": 7.0, "t": "5", "V": 0, "YL": -10, "XL": 15, "PP": -90, "EP": 11},
        {"f": 7.6, "t": "5", "V": -5, "YL": 0, "XL": 10, "PP": -100, "EP": 10},
        {"f": 8.0, "t": "5", "V": -27, "YL": -5, "XL": 94, "PP": -85, "EP": 12},
        {"f": 8.5, "t": "5", "V": 0, "YL": -10, "XL": 20, "PP": -105, "EP": 9},
        {"f": 9.0, "t": "5", "V": -8, "YL": 0, "XL": 5, "PP": -90, "EP": 10},
        {"f": 9.6, "t": "5", "V": 5, "YL": -5, "XL": 15, "PP": -80, "EP": 11},
        {"f": 3.0, "t": "7", "V": 30, "YL": 10, "XL": 40, "PP": 100, "EP": 10},
        {"f": 3.08, "t": "7", "V": 10, "YL": 0, "XL": -20, "PP": 70, "EP": 12},
        {"f": 3.15, "t": "7", "V": 35, "YL": -5, "XL": 10, "PP": 120, "EP": 9},
        {"f": 3.22, "t": "7", "V": 5, "YL": 5, "XL": 25, "PP": 85, "EP": 11},
        {"f": 3.3, "t": "7", "V": 20, "YL": -10, "XL": 0, "PP": 105, "EP": 10},
        {"f": 3.38, "t": "7", "V": 15, "YL": 0, "XL": 30, "PP": 60, "EP": 13},
        {"f": 3.46, "t": "7", "V": 0, "YL": -5, "XL": 15, "PP": 95, "EP": 9},
        {"f": 3.55, "t": "7", "V": 25, "YL": 5, "XL": 35, "PP": 115, "EP": 11},
        {"f": 3.64, "t": "7", "V": 10, "YL": -10, "XL": -5, "PP": 80, "EP": 10},
        {"f": 3.73, "t": "7", "V": 20, "YL": 0, "XL": 20, "PP": 100, "EP": 12},
        {"f": 3.82, "t": "7", "V": 5, "YL": -5, "XL": 10, "PP": 70, "EP": 9},
        {"f": 3.92, "t": "7", "V": 15, "YL": -10, "XL": 30, "PP": 90, "EP": 11},
        {"f": 4.02, "t": "7", "V": 0, "YL": 0, "XL": 15, "PP": 110, "EP": 10},
        {"f": 4.12, "t": "7", "V": 10, "YL": -5, "XL": 25, "PP": 85, "EP": 12},
        {"f": 4.24, "t": "7", "V": 20, "YL": -10, "XL": 5, "PP": 95, "EP": 9},
        {"f": 4.36, "t": "7", "V": 5, "YL": 0, "XL": 20, "PP": 75, "EP": 10},
        {"f": 4.5, "t": "7", "V": 12, "YL": -5, "XL": 10, "PP": 100, "EP": 11},
        {"f": 4.65, "t": "7", "V": 0, "YL": -10, "XL": 15, "PP": 85, "EP": 10},
        {"f": 3.35, "t": "7", "V": 8, "YL": -15, "XL": 42, "PP": 118, "EP": 10},
        {"f": 3.6, "t": "7", "V": 30, "YL": -12, "XL": -20, "PP": 65, "EP": 12},
        {"f": 5.9, "t": "9", "V": 5, "YL": -5, "XL": 20, "PP": 95, "EP": 10},
        {"f": 6.2, "t": "9", "V": -5, "YL": 0, "XL": 10, "PP": 80, "EP": 8},
        {"f": 6.5, "t": "9", "V": 0, "YL": -10, "XL": 25, "PP": 70, "EP": 10},
        {"f": 6.8, "t": "9", "V": 8, "YL": -5, "XL": 15, "PP": 85, "EP": 9},
        {"f": 7.1, "t": "9", "V": -8, "YL": -15, "XL": 20, "PP": 100, "EP": 8},
        {"f": 7.4, "t": "9", "V": 3, "YL": -10, "XL": 10, "PP": 75, "EP": 10},
        {"f": 7.7, "t": "9", "V": -5, "YL": -20, "XL": 25, "PP": 90, "EP": 9},
        {"f": 8.0, "t": "9", "V": 5, "YL": -5, "XL": 15, "PP": 95, "EP": 8},
        {"f": 8.34, "t": "9", "V": 0, "YL": -62, "XL": 20, "PP": 85, "EP": 10},
        {"f": 8.7, "t": "9", "V": -3, "YL": -10, "XL": 10, "PP": 100, "EP": 9},
        {"f": 9.0, "t": "9", "V": 6, "YL": -20, "XL": 25, "PP": 90, "EP": 8},
        {"f": 9.25, "t": "9", "V": -6, "YL": -58, "XL": 15, "PP": 105, "EP": 10},
        {"f": 9.6, "t": "9", "V": 4, "YL": -15, "XL": 20, "PP": 95, "EP": 9},
        {"f": 10.0, "t": "9", "V": -4, "YL": -10, "XL": 10, "PP": 110, "EP": 8},
        {"f": 10.5, "t": "9", "V": 2, "YL": -62, "XL": 5, "PP": 100, "EP": 10},
        {"f": 10.8, "t": "9", "V": -8, "YL": -25, "XL": 0, "PP": 115, "EP": 9},
        {"f": 11.0, "t": "9", "V": 5, "YL": 31, "XL": -10, "PP": 105, "EP": 8},
        {"f": 10.7, "t": "9", "V": 0, "YL": 20, "XL": -5, "PP": 95, "EP": 9},
        {"f": 10.2, "t": "9", "V": 8, "YL": -5, "XL": 15, "PP": 100, "EP": 10},
        {"f": 9.9, "t": "9", "V": -2, "YL": -30, "XL": 5, "PP": 90, "EP": 8},
        {"f": 11.05, "t": "9", "V": -5, "YL": -10, "XL": -8, "PP": 120, "EP": 10}
      ]},
      "layer": [
        {
          "mark": {"type": "square", "size": 7},
          "encoding": {
            "x": {"field": "f", "type": "quantitative", "scale": {"type": "log", "domain": [0.751, 20.66], "nice": false}, "axis": {"orient": "bottom", "values": [1, 1.5, 2, 3, 4, 5, 6, 7, 8, 9, 10, 12, 14, 16, 18], "format": "~g", "grid": true, "gridColor": "#dddddd", "tickSize": 2, "labelPadding": 1.5, "title": "Radio and Plasma Frequency / MHz", "titleFontWeight": "normal", "titleFontSize": 7.5, "titlePadding": 4}},
            "y": {"field": "V", "type": "quantitative", "scale": {"domain": [-945, 202], "nice": false, "zero": false}, "axis": {"orient": "left", "values": [100, 0, -100], "labelExpr": "datum.value == -100 ? '+-100' : (datum.value == 0 ? '0' : '100')", "grid": true, "gridColor": "#bdbdbd", "tickSize": 2, "title": "V*  m/s", "titleX": -28, "titleY": 29, "titleAngle": 270, "titleAlign": "center", "titleBaseline": "middle", "titleFontWeight": "bold"}},
            "color": {"field": "t", "type": "nominal"}
          }
        },
        {
          "mark": {"type": "square", "size": 7},
          "encoding": {
            "x": {"field": "f", "type": "quantitative"},
            "y": {"field": "YL", "type": "quantitative", "scale": {"domain": [-747, 400], "nice": false, "zero": false}, "axis": {"orient": "left", "values": [0, -100], "labelExpr": "datum.value == -100 ? '+-100' : '0'", "grid": true, "gridColor": "#bdbdbd", "tickSize": 2, "title": "YL", "titleX": -28, "titleY": 64, "titleAngle": 270, "titleAlign": "center", "titleBaseline": "middle", "titleFontWeight": "bold"}},
            "color": {"field": "t", "type": "nominal"}
          }
        },
        {
          "mark": {"type": "square", "size": 7},
          "encoding": {
            "x": {"field": "f", "type": "quantitative"},
            "y": {"field": "XL", "type": "quantitative", "scale": {"domain": [-549, 598], "nice": false, "zero": false}, "axis": {"orient": "left", "values": [0, -100], "labelExpr": "datum.value == -100 ? '-100' : '0'", "grid": true, "gridColor": "#bdbdbd", "tickSize": 2, "title": "XL    /km", "titleX": -28, "titleY": 88.5, "titleAngle": 270, "titleAlign": "center", "titleBaseline": "middle", "titleFontWeight": "bold"}},
            "color": {"field": "t", "type": "nominal"}
          }
        },
        {
          "mark": {"type": "square", "size": 7},
          "encoding": {
            "x": {"field": "f", "type": "quantitative"},
            "y": {"field": "PP", "type": "quantitative", "scale": {"domain": [-257, 910], "nice": false, "zero": false}, "axis": {"orient": "left", "values": [90, -90], "labelExpr": "datum.value == 90 ? 'x  90' : 'o  -90'", "labelAlign": "left", "labelPadding": -7, "ticks": false, "grid": true, "gridColor": "#8c8c8c", "title": "PP", "titleX": 7.5, "titleY": 143, "titleAngle": 0, "titleAlign": "center", "titleBaseline": "middle", "titleFontWeight": "bold"}},
            "color": {"field": "t", "type": "nominal"}
          }
        },
        {
          "mark": {"type": "square", "size": 7},
          "encoding": {
            "x": {"field": "f", "type": "quantitative"},
            "y": {"field": "EP", "type": "quantitative", "scale": {"type": "log", "domain": [0.0141, 8.5e38], "nice": false, "zero": false}, "axis": {"orient": "left", "values": [10, 0.1], "labelExpr": "datum.value == 10 ? '10.' : '0.1'", "grid": true, "gridColor": {"condition": {"test": "datum.value == 10", "value": "#bdbdbd"}, "value": "#dddddd"}, "tickSize": 3, "labelPadding": 2, "title": "EP / deg", "titleX": -27, "titleY": 173, "titleAngle": 270, "titleAlign": "center", "titleBaseline": "middle", "titleFontWeight": "bold"}},
            "color": {"field": "t", "type": "nominal"}
          }
        }
      ],
      "resolve": {"scale": {"y": "independent"}}
    }
  ]
}
